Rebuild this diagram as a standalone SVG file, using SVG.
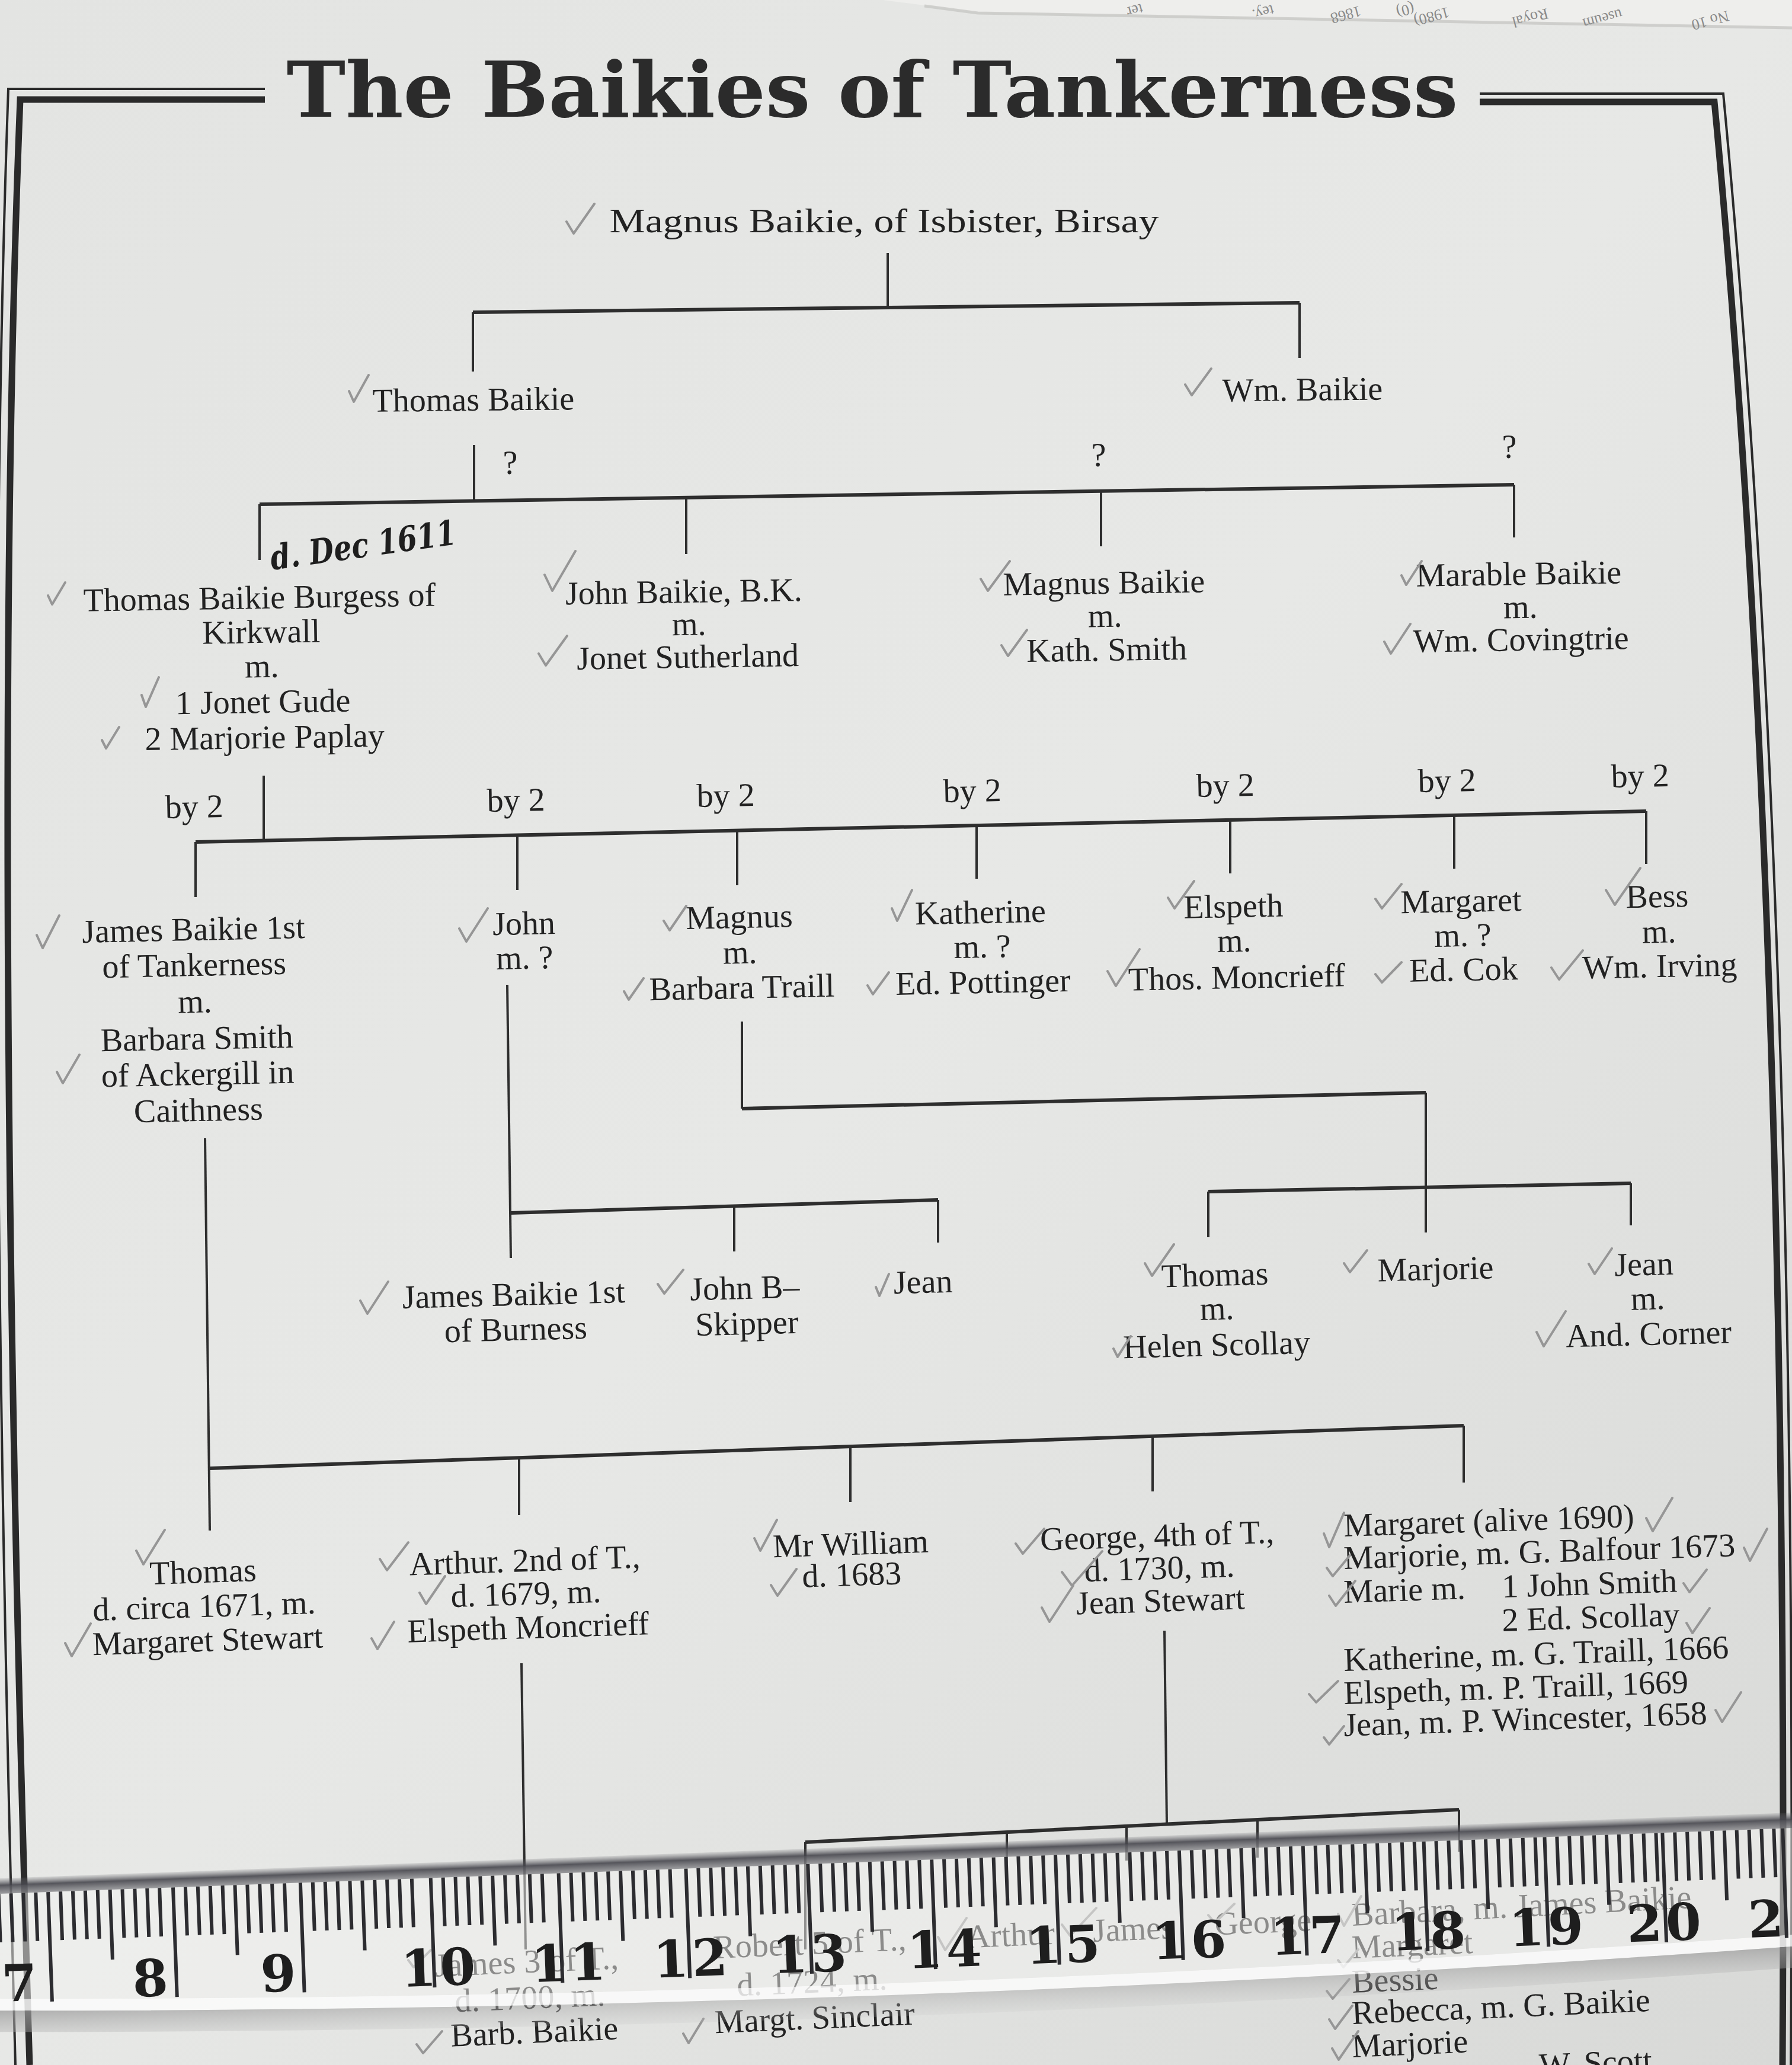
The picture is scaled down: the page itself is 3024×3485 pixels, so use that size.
<svg xmlns="http://www.w3.org/2000/svg" xmlns:xlink="http://www.w3.org/1999/xlink" width="3024" height="3485" viewBox="0 0 3024 3485">
<defs>
<style>
.t{font-family:"Liberation Serif","Times New Roman",serif;font-size:56px;fill:#222;text-anchor:middle}
.s{text-anchor:start}
.ln{fill:none;stroke:#2e2e2e;stroke-width:4}
.bar{fill:none;stroke:#2e2e2e;stroke-width:6}
.fr{fill:none;stroke:#2a2a2a}
.ck{fill:none;stroke:#969696;stroke-width:4;stroke-linecap:round;stroke-linejoin:round}
.rt{fill:none;stroke:#2c2c30;stroke-width:6}
.rn{font-family:"DejaVu Serif",serif;font-weight:bold;font-size:86px;fill:#1e1e1e;text-anchor:middle;letter-spacing:6px}
.pg{font-family:"Liberation Serif",serif;font-size:26px;fill:#8a8a8a}
</style>
<linearGradient id="paper" x1="0" y1="0" x2="1" y2="1">
<stop offset="0" stop-color="#e3e4e2"/><stop offset="0.5" stop-color="#e7e8e6"/><stop offset="1" stop-color="#d8d9d7"/>
</linearGradient>
<linearGradient id="edge" x1="0" y1="0" x2="0" y2="1">
<stop offset="0" stop-color="#6a6a70" stop-opacity="0.15"/><stop offset="0.45" stop-color="#45454c" stop-opacity="0.9"/><stop offset="1" stop-color="#5a5a60" stop-opacity="0.55"/>
</linearGradient>
<linearGradient id="shadow" x1="0" y1="0" x2="0" y2="1">
<stop offset="0" stop-color="#9a9a9a" stop-opacity="0.75"/><stop offset="1" stop-color="#bdbdbd" stop-opacity="0.15"/>
</linearGradient>
<path id="unit" d="M0 3196v185M20.9 3196v82M41.8 3196v82M62.7 3196v82M83.6 3196v82M104.5 3196v118M125.4 3196v82M146.3 3196v82M167.2 3196v82M188.1 3196v82"/>
</defs>

<rect width="3024" height="3485" fill="url(#paper)"/>
<path d="M1490 0H3024V46L1650 21L1560 9Z" fill="#eeeeec"/>
<path d="M1560 10L1650 22L3024 47" fill="none" stroke="#c3c3c1" stroke-width="5" stroke-opacity="0.7"/>
<g id="overlap-page-text">
<text class="pg" x="1926" y="6" transform="rotate(165 1926 6)">ter</text>
<text class="pg" x="2147" y="8" transform="rotate(165 2147 8)">tey.</text>
<text class="pg" x="2294" y="10" transform="rotate(165 2294 10)">1868</text>
<text class="pg" x="2384" y="5" transform="rotate(165 2384 5)">(0)</text>
<text class="pg" x="2443" y="12" transform="rotate(165 2443 12)">1980)</text>
<text class="pg" x="2610" y="14" transform="rotate(165 2610 14)">Royal</text>
<text class="pg" x="2735" y="15" transform="rotate(165 2735 15)">useum</text>
<text class="pg" x="2915" y="18" transform="rotate(165 2915 18)">No 10</text>
</g>

<g id="frame">
<path class="fr" stroke-width="4" d="M447 150H14Q-30 1400 26 3485"/>
<path class="fr" stroke-width="11" d="M447 168H34Q-15 1400 50 3485"/>
<path class="fr" stroke-width="4" d="M2497 158H2908Q3036 1500 3022 3485"/>
<path class="fr" stroke-width="11" d="M2497 172H2893Q3020 1500 3008 3485"/>
</g>

<text id="title" x="1472" y="197" font-family="DejaVu Serif, serif" font-weight="bold" font-size="130" fill="#2b2b2b" text-anchor="middle" textLength="1977" lengthAdjust="spacingAndGlyphs">The Baikies of Tankerness</text>

<g id="connectors">
<path class="ln" d="M1498 427V519"/>
<path class="bar" d="M798 527L2193 511"/>
<path class="ln" d="M798 527V627M2193 511V604"/>
<path class="ln" d="M800 751V846"/>
<path class="bar" d="M438 851L2555 818"/>
<path class="ln" d="M438 851V945M1158 840V935M1858 829V922M2555 818V907"/>
<path class="ln" d="M445 1309V1419"/>
<path class="bar" d="M330 1421L2778 1369"/>
<path class="ln" d="M330 1421V1514M873 1409V1502M1244 1402V1494M1648 1393V1483M2076 1384V1474M2454 1376V1466M2778 1369V1458"/>
<path class="ln" d="M856 1662L862 2123"/>
<path class="bar" d="M862 2047L1583 2025"/>
<path class="ln" d="M1239 2036V2112M1583 2025V2097"/>
<path class="ln" d="M1252 1724V1871"/>
<path class="bar" d="M1252 1871L2406 1844"/>
<path class="ln" d="M2406 1844V2080"/>
<path class="bar" d="M2039 2011L2752 1997"/>
<path class="ln" d="M2039 2011V2088M2752 1997V2068"/>
<path class="ln" d="M346 1921L354 2583"/>
<path class="bar" d="M354 2478L2470 2406"/>
<path class="ln" d="M876 2460V2557M1435 2441V2535M1945 2424V2517M2470 2406V2502"/>
<path class="ln" d="M880 2807L887 3290"/>
<path class="ln" d="M1965 2752L1969 3079"/>
<path class="bar" d="M1359 3109L2462 3054"/>
<path class="ln" d="M1359 3109V3290M1699 3092V3145M1901 3082V3140M2122 3071V3135M2462 3054V3125"/>
</g>

<g id="q-marks" class="t">
<text x="861" y="800">?</text>
<text x="1854" y="787">?</text>
<text x="2547" y="773">?</text>
</g>

<g id="n-magnus-isbister"><text class="t" x="1492" y="392" font-size="68" textLength="927" lengthAdjust="spacingAndGlyphs">Magnus Baikie, of Isbister, Birsay</text></g>
<g id="n-thomas-baikie" transform="rotate(-0.6 799 680)"><text class="t" x="799" y="693">Thomas Baikie</text></g>
<g id="n-wm-baikie" transform="rotate(-0.6 2198 665)"><text class="t" x="2198" y="676">Wm. Baikie</text></g>

<g id="n-thomas-burgess" class="t" transform="rotate(-0.9 440 1140)">
<text x="440" y="1027">Thomas Baikie Burgess of</text>
<text x="442" y="1085">Kirkwall</text>
<text x="442" y="1143">m.</text>
<text x="443" y="1203">1 Jonet Gude</text>
<text x="445" y="1263">2 Marjorie Paplay</text>
</g>
<text id="note-dec-1611" x="459" y="962" transform="rotate(-8 459 962)" font-family="DejaVu Serif, serif" font-style="italic" font-weight="bold" font-size="58" fill="#1e1e1e" textLength="316" lengthAdjust="spacingAndGlyphs">d. Dec 1611</text>
<g id="n-john-bk" class="t" transform="rotate(-0.9 1158 1070)">
<text x="1155" y="1017">John Baikie, B.K.</text>
<text x="1163" y="1072">m.</text>
<text x="1160" y="1127">Jonet Sutherland</text>
</g>
<g id="n-magnus-baikie" class="t" transform="rotate(-0.9 1865 1058)">
<text x="1864" y="1002">Magnus Baikie</text>
<text x="1865" y="1058">m.</text>
<text x="1867" y="1115">Kath. Smith</text>
</g>
<g id="n-marable" class="t" transform="rotate(-0.9 2565 1043)">
<text x="2564" y="987">Marable Baikie</text>
<text x="2566" y="1043">m.</text>
<text x="2566" y="1098">Wm. Covingtrie</text>
</g>

<g id="by2-labels" class="t">
<text x="328" y="1380" transform="rotate(-1.2 328 1380)">by 2</text>
<text x="871" y="1369" transform="rotate(-1.2 871 1369)">by 2</text>
<text x="1225" y="1361" transform="rotate(-1.2 1225 1361)">by 2</text>
<text x="1641" y="1353" transform="rotate(-1.2 1641 1353)">by 2</text>
<text x="2068" y="1344" transform="rotate(-1.2 2068 1344)">by 2</text>
<text x="2442" y="1336" transform="rotate(-1.2 2442 1336)">by 2</text>
<text x="2768" y="1328" transform="rotate(-1.2 2768 1328)">by 2</text>
</g>

<g id="n-james-1st" class="t" transform="rotate(-1.2 330 1740)">
<text x="330" y="1587">James Baikie 1st</text>
<text x="330" y="1647">of Tankerness</text>
<text x="330" y="1709">m.</text>
<text x="332" y="1771">Barbara Smith</text>
<text x="332" y="1831">of Ackergill in</text>
<text x="332" y="1892">Caithness</text>
</g>
<g id="n-john" class="t" transform="rotate(-1.2 885 1605)">
<text x="885" y="1577">John</text>
<text x="885" y="1635">m. ?</text>
</g>
<g id="n-magnus" class="t" transform="rotate(-1.2 1250 1626)">
<text x="1249" y="1566">Magnus</text>
<text x="1249" y="1626">m.</text>
<text x="1251" y="1685">Barbara Traill</text>
</g>
<g id="n-katherine" class="t" transform="rotate(-1.2 1657 1616)">
<text x="1656" y="1558">Katherine</text>
<text x="1658" y="1616">m. ?</text>
<text x="1658" y="1676">Ed. Pottinger</text>
</g>
<g id="n-elspeth" class="t" transform="rotate(-1.2 2085 1606)">
<text x="2083" y="1548">Elspeth</text>
<text x="2083" y="1606">m.</text>
<text x="2086" y="1668">Thos. Moncrieff</text>
</g>
<g id="n-margaret" class="t" transform="rotate(-1.2 2467 1597)">
<text x="2467" y="1539">Margaret</text>
<text x="2469" y="1597">m. ?</text>
<text x="2469" y="1655">Ed. Cok</text>
</g>
<g id="n-bess" class="t" transform="rotate(-1.2 2800 1591)">
<text x="2798" y="1531">Bess</text>
<text x="2800" y="1591">m.</text>
<text x="2800" y="1649">Wm. Irving</text>
</g>

<g id="n-james-burness" class="t" transform="rotate(-1.5 870 2230)">
<text x="868" y="2203">James Baikie 1st</text>
<text x="870" y="2262">of Burness</text>
</g>
<g id="n-john-b" class="t" transform="rotate(-1.5 1258 2222)">
<text x="1258" y="2192">John B–</text>
<text x="1260" y="2252">Skipper</text>
</g>
<g id="n-jean-1" class="t" transform="rotate(-1.5 1558 2182)"><text x="1558" y="2182">Jean</text></g>
<g id="n-thomas-scollay" class="t" transform="rotate(-1.5 2053 2227)">
<text x="2052" y="2170">Thomas</text>
<text x="2054" y="2227">m.</text>
<text x="2052" y="2288">Helen Scollay</text>
</g>
<g id="n-marjorie-1" class="t" transform="rotate(-1.5 2423 2160)"><text x="2423" y="2160">Marjorie</text></g>
<g id="n-jean-corner" class="t" transform="rotate(-1.5 2780 2210)">
<text x="2776" y="2152">Jean</text>
<text x="2781" y="2210">m.</text>
<text x="2781" y="2270">And. Corner</text>
</g>

<g id="n-thomas-stewart" class="t" transform="rotate(-1.9 345 2729)">
<text x="345" y="2671">Thomas</text>
<text x="345" y="2729">d. circa 1671, m.</text>
<text x="349" y="2787">Margaret Stewart</text>
</g>
<g id="n-arthur-2nd" class="t" transform="rotate(-1.9 888 2708)">
<text x="888" y="2652">Arthur. 2nd of T.,</text>
<text x="888" y="2708">d. 1679, m.</text>
<text x="890" y="2765">Elspeth Moncrieff</text>
</g>
<g id="n-mr-william" class="t" transform="rotate(-1.9 1437 2650)">
<text x="1437" y="2624">Mr William</text>
<text x="1437" y="2676">d. 1683</text>
</g>
<g id="n-george-4th" class="t" transform="rotate(-1.9 1955 2665)">
<text x="1955" y="2610">George, 4th of T.,</text>
<text x="1957" y="2665">d. 1730, m.</text>
<text x="1957" y="2720">Jean Stewart</text>
</g>
<g id="n-daughters" class="t s">
<text x="2268" y="2593" transform="rotate(-1.9 2268 2593)">Margaret (alive 1690)</text>
<text x="2268" y="2648" transform="rotate(-1.9 2268 2648)">Marjorie, m. G. Balfour 1673</text>
<text x="2268" y="2705" transform="rotate(-1.9 2268 2705)">Marie m.</text>
<text x="2535" y="2696" transform="rotate(-1.9 2535 2696)">1 John Smith</text>
<text x="2535" y="2753" transform="rotate(-1.9 2535 2753)">2 Ed. Scollay</text>
<text x="2268" y="2820" transform="rotate(-1.9 2268 2820)">Katherine, m. G. Traill, 1666</text>
<text x="2268" y="2876" transform="rotate(-1.9 2268 2876)">Elspeth, m. P. Traill, 1669</text>
<text x="2268" y="2930" transform="rotate(-1.9 2268 2930)">Jean, m. P. Wincester, 1658</text>
</g>

<path class="ck" d="M956 374L968 394L1003 344M589 660L597 678L622 633M2000 649L2011 667L2044 622M81 1005L88 1020L110 983M239 1173L246 1193L268 1143M172 1249L179 1263L201 1227M919 970L932 997L971 930M909 1103L921 1123L957 1073M1655 977L1667 997L1704 947M1690 1089L1701 1107L1733 1063M2365 971L2373 987L2399 947M2336 1083L2347 1103L2380 1053M62 1578L72 1600L100 1545M96 1809L106 1828L134 1780M775 1567L787 1589L823 1533M1120 1554L1130 1570L1158 1529M1053 1673L1061 1687L1086 1651M1464 1663L1473 1678L1500 1641M1505 1533L1514 1554L1539 1502M1971 1515L1982 1533L2015 1487M1869 1639L1883 1664L1923 1602M2321 1517L2332 1533L2365 1492M2321 1644L2332 1658L2365 1624M2710 1502L2725 1527L2768 1465M2618 1633L2631 1653L2671 1604M608 2195L620 2217L655 2163M1110 2167L1121 2183L1153 2143M1478 2172L1484 2187L1500 2150M1932 2132L1944 2153L1981 2100M1879 2276L1886 2290L1908 2255M2268 2132L2278 2147L2307 2110M2681 2133L2691 2150L2720 2107M2593 2248L2605 2272L2642 2213M230 2617L242 2640L278 2582M110 2773L121 2795L153 2740M641 2631L653 2650L689 2603M708 2688L719 2707L751 2660M627 2765L637 2783L665 2737M1273 2596L1283 2617L1311 2565M1301 2675L1312 2693L1344 2648M1714 2605L1726 2622L1762 2580M1792 2653L1809 2676L1860 2618M1758 2713L1771 2737L1811 2676M2234 2588L2243 2611L2268 2553M2239 2646L2249 2660L2278 2625M2243 2693L2254 2710L2287 2668M2209 2859L2221 2873L2258 2837M2234 2932L2243 2944L2268 2913M2778 2562L2789 2584L2822 2528M2943 2612L2953 2634L2982 2580M2841 2672L2851 2687L2880 2649M2846 2739L2856 2756L2885 2714M2895 2886L2906 2906L2938 2856"/>

<g id="n-james-3rd" class="t" transform="rotate(-2.5 892 3390)">
<text x="892" y="3329">James 3 of T.,</text>
<text x="895" y="3390">d. 1700, m.</text>
<text x="900" y="3448">Barb. Baikie</text>
</g>
<g id="n-robert-5th" class="t" transform="rotate(-2.5 1370 3363)">
<text x="1370" y="3298">Robert 5 of T.,</text>
<text x="1371" y="3363">d. 1724, m.</text>
<text x="1373" y="3424">Margt. Sinclair</text>
</g>
<g id="n-arthur" class="t" transform="rotate(-2.5 1706 3284)"><text x="1706" y="3284">Arthur</text></g>
<g id="n-james" class="t" transform="rotate(-2.5 1913 3274)"><text x="1913" y="3274">James</text></g>
<g id="n-george" class="t" transform="rotate(-2.5 2132 3262)"><text x="2132" y="3262">George</text></g>
<g id="n-barbara-list" class="t s">
<text x="2282" y="3250" transform="rotate(-3 2282 3250)">Barbara, m. James Baikie</text>
<text x="2282" y="3305" transform="rotate(-2.5 2282 3305)">Margaret</text>
<text x="2282" y="3363" transform="rotate(-2.5 2282 3363)">Bessie</text>
<text x="2282" y="3416" transform="rotate(-2.5 2282 3416)">Rebecca, m. G. Baikie</text>
<text x="2282" y="3472" transform="rotate(-2.5 2282 3472)">Marjorie</text>
<text x="2598" y="3504" transform="rotate(-2.5 2598 3504)">W. Scott</text>
</g>
<path class="ck" d="M703 3450L714 3465L746 3428M1153 3432L1162 3448L1187 3407M1583 3269L1595 3291L1631 3237M1792 3248L1806 3267L1850 3220M2039 3232L2050 3245L2083 3213M2258 3230L2268 3250L2297 3200M2258 3308L2267 3320L2292 3290M2239 3360L2249 3373L2277 3340M2243 3408L2253 3424L2282 3385M2248 3457L2259 3476L2292 3428M689 3308L698 3320L727 3291"/>

<g id="ruler" transform="rotate(-2.1 0 3190)">
<path d="M-40 3182H3120V3372Q1540 3432 -40 3372Z" fill="#f3f3f1" fill-opacity="0.5"/>
<path d="M-40 3372Q1540 3432 3120 3372V3392Q1540 3452 -40 3392Z" fill="#fbfbfb" fill-opacity="0.85"/>
<path d="M-40 3392Q1540 3452 3120 3392V3428Q1540 3488 -40 3428Z" fill="url(#shadow)"/>
<rect x="-40" y="3170" width="3160" height="26" fill="url(#edge)"/>
<g class="rt">
<use href="#unit" x="-128"/><use href="#unit" x="81"/><use href="#unit" x="292"/><use href="#unit" x="507"/>
<use href="#unit" x="727"/><use href="#unit" x="943"/><use href="#unit" x="1158"/><use href="#unit" x="1364"/>
<use href="#unit" x="1573"/><use href="#unit" x="1782"/><use href="#unit" x="1991"/><use href="#unit" x="2200"/>
<use href="#unit" x="2404"/><use href="#unit" x="2608"/><use href="#unit" x="2807"/><use href="#unit" x="3010"/>
</g>
<g class="rn">
<text x="30" y="3378">7</text><text x="251" y="3378">8</text><text x="467" y="3378">9</text>
<text x="737" y="3378">10</text><text x="957" y="3378">11</text><text x="1163" y="3378">12</text>
<text x="1364" y="3378">13</text><text x="1592" y="3378">14</text><text x="1792" y="3378">15</text>
<text x="2005" y="3378">16</text><text x="2205" y="3378">17</text><text x="2409" y="3378">18</text>
<text x="2608" y="3378">19</text><text x="2807" y="3378">20</text><text x="3012" y="3378">21</text>
</g>
</g>
</svg>
